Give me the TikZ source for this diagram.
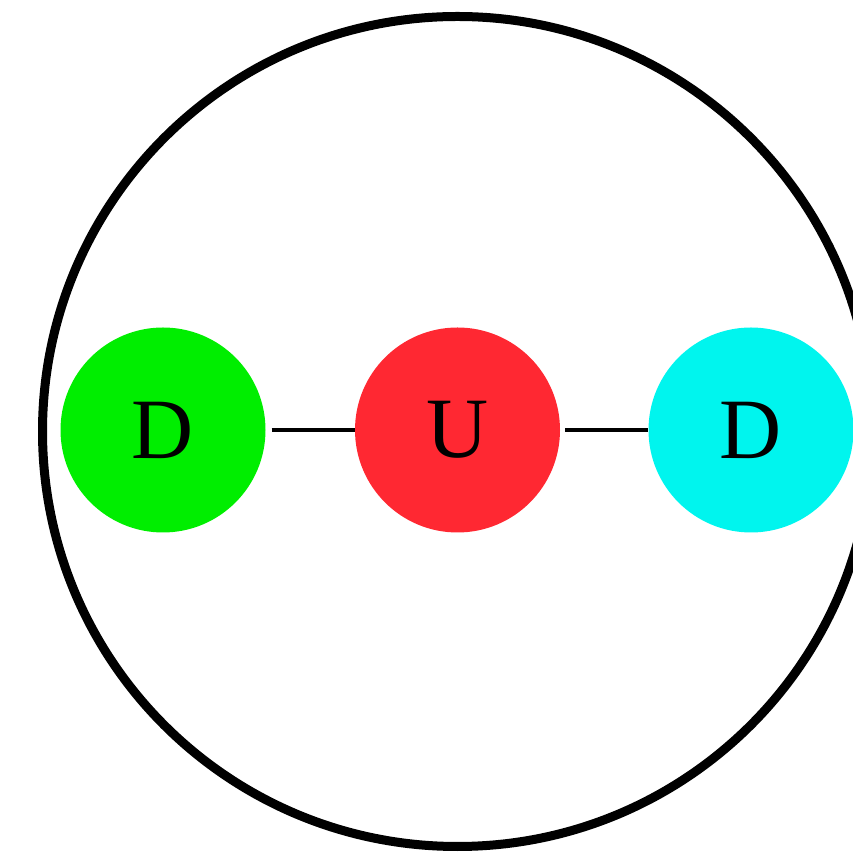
\documentclass[tikz,border=0pt]{standalone}
\usepackage{fontspec}
\setmainfont{Liberation Serif}
\definecolor{qgreen}{RGB}{0,238,0}
\definecolor{qred}{RGB}{255,40,50}
\definecolor{qcyan}{RGB}{0,245,238}
\begin{document}
\begin{tikzpicture}[x=1pt,y=1pt,
  quark/.style={circle,minimum size=205pt,inner sep=0pt,font=\fontsize{86}{86}\selectfont},
  link/.style={line width=3.5pt}]
\useasboundingbox (0,0) rectangle (852,853);
\node[draw,circle,line width=9pt,minimum size=830pt,inner sep=0pt] (hadron) at (457.5,421.5) {};
\node[quark,fill=qgreen] (q1) at (163,423) {D};
\node[quark,fill=qred] (q2) at (457.5,423) {U};
\node[quark,fill=qcyan] (q3) at (751,423) {D};
\draw[link,shorten <=6pt] (q1.east) -- (q2.west);
\draw[link,shorten <=5pt] (q2.east) -- (q3.west);
\end{tikzpicture}
\end{document}
